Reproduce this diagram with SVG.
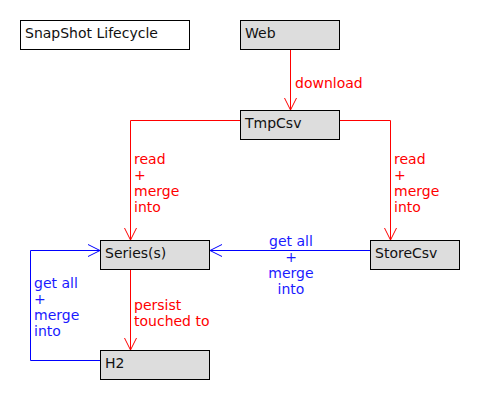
<svg xmlns="http://www.w3.org/2000/svg" width="480" height="400" viewBox="0 0 480 400">
<style>
.node rect{fill:#dddddd;stroke:#000;stroke-width:1}
.title rect{fill:#fff;stroke:#000;stroke-width:1}
text{font-family:"DejaVu Sans",sans-serif;font-size:14px}
.nt{fill:#111}
.r{stroke:#ff0000;fill:none;stroke-width:1}
.b{stroke:#0000ff;fill:none;stroke-width:1}
.rt{fill:#ff0000}
.bt{fill:#1a1aff}
</style>
<rect width="480" height="400" fill="#fff"/>
<g id="title" class="title"><rect x="20.5" y="20.5" width="169" height="29"/><text class="nt" x="25" y="38">SnapShot Lifecycle</text></g>
<g id="web" class="node"><rect x="240.5" y="20.5" width="99" height="29"/><text class="nt" x="245" y="38">Web</text></g>
<g id="tmpcsv" class="node"><rect x="240.5" y="110.5" width="99" height="29"/><text class="nt" x="245" y="128">TmpCsv</text></g>
<g id="series" class="node"><rect x="100.5" y="240.5" width="109" height="29"/><text class="nt" x="105" y="258">Series(s)</text></g>
<g id="storecsv" class="node"><rect x="370.5" y="240.5" width="89" height="29"/><text class="nt" x="375" y="258">StoreCsv</text></g>
<g id="h2" class="node"><rect x="100.5" y="350.5" width="109" height="29"/><text class="nt" x="105" y="368">H2</text></g>
<g id="connectors">
<path class="r" d="M290.5 50 V110 M284.5 98 L290.5 110 L296.5 98"/>
<text class="rt" x="295" y="88">download</text>
<path class="r" d="M240 120.5 H130.5 V240 M124.5 228 L130.5 240 L136.5 228"/>
<text class="rt" x="134" y="164">read</text><text class="rt" x="134" y="180">+</text><text class="rt" x="134" y="196">merge</text><text class="rt" x="134" y="212">into</text>
<path class="r" d="M340 120.5 H390.5 V240 M384.5 228 L390.5 240 L396.5 228"/>
<text class="rt" x="394" y="164">read</text><text class="rt" x="394" y="180">+</text><text class="rt" x="394" y="196">merge</text><text class="rt" x="394" y="212">into</text>
<path class="b" d="M370 250.5 H210 M222 244.5 L210 250.5 L222 256.5"/>
<g text-anchor="middle"><text class="bt" x="291" y="246">get all</text><text class="bt" x="291" y="262">+</text><text class="bt" x="291" y="278">merge</text><text class="bt" x="291" y="294">into</text></g>
<path class="b" d="M100 360.5 H30.5 V250.5 H100 M88 244.5 L100 250.5 L88 256.5"/>
<text class="bt" x="34" y="288">get all</text><text class="bt" x="34" y="304">+</text><text class="bt" x="34" y="320">merge</text><text class="bt" x="34" y="336">into</text>
<path class="r" d="M130.5 270 V350 M124.5 338 L130.5 350 L136.5 338"/>
<text class="rt" x="134" y="310">persist</text><text class="rt" x="134" y="326">touched to</text>
</g>
</svg>
